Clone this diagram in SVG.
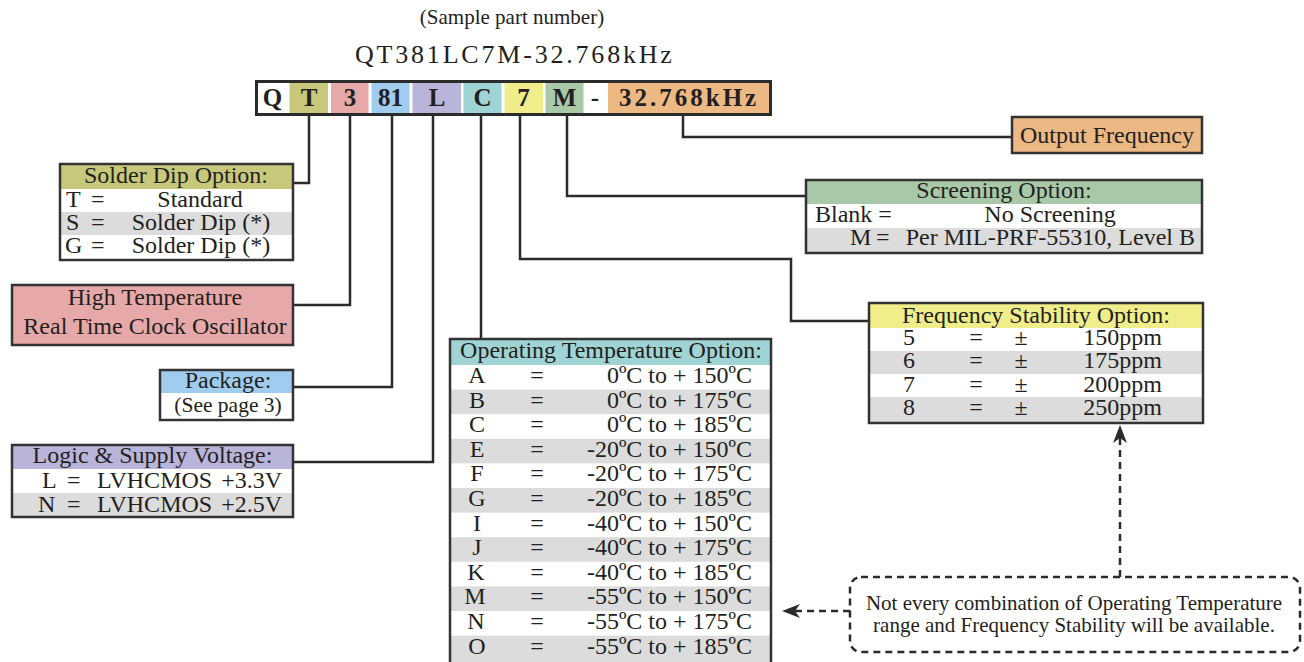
<svg xmlns="http://www.w3.org/2000/svg" width="1304" height="662" viewBox="0 0 1304 662">
<style>
.t{font-family:"Liberation Serif","Times New Roman",serif;font-size:24px;fill:#231f20}
.m{text-anchor:middle}
.e{text-anchor:end}
.b{font-weight:bold;font-size:25px}
.box{fill:none;stroke:#333;stroke-width:2.5}
.conn{fill:none;stroke:#2b2b2b;stroke-width:2.5}
.dash{fill:none;stroke:#2b2b2b;stroke-width:2.5;stroke-dasharray:7 5}
.g{fill:#dcdcdc}
.w{fill:#fff}
</style>
<defs>
<marker id="arr" viewBox="0 0 18 14" refX="5" refY="7" markerWidth="18" markerHeight="14" markerUnits="userSpaceOnUse" orient="auto">
<path d="M0,0 L18,7 L0,14 L5,7 z" fill="#2b2b2b"/>
</marker>
</defs>
<rect width="1304" height="662" fill="#fff"/>

<g id="title">
<text class="t m" x="512" y="24" style="font-size:21px">(Sample part number)</text>
<text class="t" x="355" y="63" style="font-size:26px;letter-spacing:2.8px">QT381LC7M-32.768kHz</text>
</g>

<g id="partnumber">
<rect x="256.5" y="81.5" width="514" height="33" fill="#fff" stroke="#2b2b2b" stroke-width="3"/>
<rect x="289.5" y="83" width="38.5" height="30" fill="#c8c87a"/>
<rect x="331" y="83" width="37.5" height="30" fill="#e6a8a8"/>
<rect x="371.5" y="83" width="38" height="30" fill="#a0ccef"/>
<rect x="412.5" y="83" width="48.5" height="30" fill="#b8b4da"/>
<rect x="463.5" y="83" width="38" height="30" fill="#a0d4d4"/>
<rect x="504.5" y="83" width="38.5" height="30" fill="#f0ee8a"/>
<rect x="545.5" y="83" width="38" height="30" fill="#a8c8a8"/>
<rect x="608" y="83" width="161" height="30" fill="#ecb884"/>
<text class="t b m" x="272.5" y="106">Q</text>
<text class="t b m" x="309" y="106">T</text>
<text class="t b m" x="350" y="106">3</text>
<text class="t b m" x="390.5" y="106">81</text>
<text class="t b m" x="437" y="106">L</text>
<text class="t b m" x="482.5" y="106">C</text>
<text class="t b m" x="523.5" y="106">7</text>
<text class="t b m" x="564.5" y="106">M</text>
<text class="t b m" x="595" y="106">-</text>
<text class="t b" x="619" y="106" style="letter-spacing:3px">32.768kHz</text>
</g>

<g id="connectors">
<polyline class="conn" points="309,116 309,183 293,183"/>
<polyline class="conn" points="350,116 350,305 293,305"/>
<polyline class="conn" points="392,116 392,387 293,387"/>
<polyline class="conn" points="433,116 433,462 293,462"/>
<polyline class="conn" points="481,116 481,339"/>
<polyline class="conn" points="520,116 520,259 791,259 791,321 869,321"/>
<polyline class="conn" points="567,116 567,196 806,196"/>
<polyline class="conn" points="683,116 683,137 1012,137"/>
<line class="dash" x1="1120" y1="577" x2="1120" y2="438" marker-end="url(#arr)"/>
<line class="dash" x1="850" y1="611" x2="795" y2="611" marker-end="url(#arr)"/>
</g>

<g id="solder-dip">
<rect x="60" y="164" width="233" height="25" fill="#c8c87a"/>
<rect x="60" y="212" width="233" height="23" class="g"/>
<rect class="box" x="60" y="164" width="233" height="96"/>
<text class="t m" x="176" y="183">Solder Dip Option:</text>
<text class="t" x="66" y="207">T</text><text class="t" x="91" y="207">=</text><text class="t m" x="200" y="207">Standard</text>
<text class="t" x="66" y="230">S</text><text class="t" x="91" y="230">=</text><text class="t m" x="201" y="230">Solder Dip (*)</text>
<text class="t" x="65" y="253">G</text><text class="t" x="91" y="253">=</text><text class="t m" x="201" y="253">Solder Dip (*)</text>
</g>

<g id="high-temp">
<rect x="12" y="285" width="281" height="60" fill="#e6a8a8" stroke="#333" stroke-width="2.5"/>
<text class="t m" x="155" y="305">High Temperature</text>
<text class="t m" x="155" y="334">Real Time Clock Oscillator</text>
</g>

<g id="package">
<rect x="160" y="370" width="133" height="23" fill="#a0ccef"/>
<rect class="box" x="160" y="370" width="133" height="50"/>
<text class="t m" x="228" y="388">Package:</text>
<text class="t m" x="228" y="412" style="font-size:21.5px">(See page 3)</text>
</g>

<g id="logic">
<rect x="12" y="445" width="281" height="24" fill="#b8b4da"/>
<rect x="12" y="493" width="281" height="24" class="g"/>
<rect class="box" x="12" y="445" width="281" height="72"/>
<text class="t m" x="152.5" y="463">Logic &amp; Supply Voltage:</text>
<text class="t" x="42" y="488">L</text><text class="t" x="67" y="488">=</text><text class="t" x="97" y="488">LVHCMOS</text><text class="t e" x="282" y="488">+3.3V</text>
<text class="t" x="38" y="512">N</text><text class="t" x="67" y="512">=</text><text class="t" x="97" y="512">LVHCMOS</text><text class="t e" x="282" y="512">+2.5V</text>
</g>

<g id="output-frequency">
<rect x="1012" y="117" width="190" height="36" fill="#ecb884" stroke="#333" stroke-width="2.5"/>
<text class="t m" x="1107" y="143">Output Frequency</text>
</g>

<g id="screening">
<rect x="806" y="180" width="396" height="24" fill="#a8c8a8"/>
<rect x="806" y="228" width="396" height="25" class="g"/>
<rect class="box" x="806" y="180" width="396" height="73"/>
<text class="t m" x="1004" y="198">Screening Option:</text>
<text class="t" x="815" y="222">Blank =</text><text class="t m" x="1050" y="222">No Screening</text>
<text class="t" x="850" y="245">M</text><text class="t" x="876" y="245">=</text><text class="t e" x="1195" y="245">Per MIL-PRF-55310, Level B</text>
</g>

<g id="frequency-stability">
<rect x="869" y="303" width="334" height="25" fill="#f0ee8a"/>
<rect x="869" y="351" width="334" height="23" class="g"/>
<rect x="869" y="397" width="334" height="26" class="g"/>
<rect class="box" x="869" y="303" width="334" height="120"/>
<text class="t m" x="1036" y="323">Frequency Stability Option:</text>
<text class="t" x="903" y="345">5</text><text class="t m" x="976" y="345">=</text><text class="t m" x="1021" y="345">±</text><text class="t e" x="1162" y="345">150ppm</text>
<text class="t" x="903" y="368">6</text><text class="t m" x="976" y="368">=</text><text class="t m" x="1021" y="368">±</text><text class="t e" x="1162" y="368">175ppm</text>
<text class="t" x="903" y="392">7</text><text class="t m" x="976" y="392">=</text><text class="t m" x="1021" y="392">±</text><text class="t e" x="1162" y="392">200ppm</text>
<text class="t" x="903" y="415">8</text><text class="t m" x="976" y="415">=</text><text class="t m" x="1021" y="415">±</text><text class="t e" x="1162" y="415">250ppm</text>
</g>

<g id="operating-temperature">
<rect x="450" y="339" width="321" height="26" fill="#a0d4d4"/>
<rect x="450" y="389.6" width="321" height="24.6" class="g"/>
<rect x="450" y="438.8" width="321" height="24.6" class="g"/>
<rect x="450" y="488" width="321" height="24.6" class="g"/>
<rect x="450" y="537.2" width="321" height="24.6" class="g"/>
<rect x="450" y="586.4" width="321" height="24.6" class="g"/>
<rect x="450" y="635.6" width="321" height="30" class="g"/>
<rect class="box" x="450" y="339" width="321" height="335"/>
<text class="t m" x="611" y="358">Operating Temperature Option:</text>
<text class="t m" x="477" y="383">A</text><text class="t m" x="537" y="383">=</text><text class="t e" x="752" y="383">0ºC to + 150ºC</text>
<text class="t m" x="477" y="407.6">B</text><text class="t m" x="537" y="407.6">=</text><text class="t e" x="752" y="407.6">0ºC to + 175ºC</text>
<text class="t m" x="477" y="432.2">C</text><text class="t m" x="537" y="432.2">=</text><text class="t e" x="752" y="432.2">0ºC to + 185ºC</text>
<text class="t m" x="477" y="456.8">E</text><text class="t m" x="537" y="456.8">=</text><text class="t e" x="752" y="456.8">-20ºC to + 150ºC</text>
<text class="t m" x="477" y="481.4">F</text><text class="t m" x="537" y="481.4">=</text><text class="t e" x="752" y="481.4">-20ºC to + 175ºC</text>
<text class="t m" x="477" y="506">G</text><text class="t m" x="537" y="506">=</text><text class="t e" x="752" y="506">-20ºC to + 185ºC</text>
<text class="t m" x="477" y="530.6">I</text><text class="t m" x="537" y="530.6">=</text><text class="t e" x="752" y="530.6">-40ºC to + 150ºC</text>
<text class="t m" x="477" y="555.2">J</text><text class="t m" x="537" y="555.2">=</text><text class="t e" x="752" y="555.2">-40ºC to + 175ºC</text>
<text class="t m" x="476" y="579.8">K</text><text class="t m" x="537" y="579.8">=</text><text class="t e" x="752" y="579.8">-40ºC to + 185ºC</text>
<text class="t m" x="475" y="604.4">M</text><text class="t m" x="537" y="604.4">=</text><text class="t e" x="752" y="604.4">-55ºC to + 150ºC</text>
<text class="t m" x="476" y="629">N</text><text class="t m" x="537" y="629">=</text><text class="t e" x="752" y="629">-55ºC to + 175ºC</text>
<text class="t m" x="477" y="653.6">O</text><text class="t m" x="537" y="653.6">=</text><text class="t e" x="752" y="653.6">-55ºC to + 185ºC</text>
</g>

<g id="note">
<rect class="dash" x="850" y="577" width="450" height="75" rx="11"/>
<text class="t m" x="1074" y="610" style="font-size:21px">Not every combination of Operating Temperature</text>
<text class="t m" x="1074" y="632" style="font-size:21px">range and Frequency Stability will be available.</text>
</g>
</svg>
